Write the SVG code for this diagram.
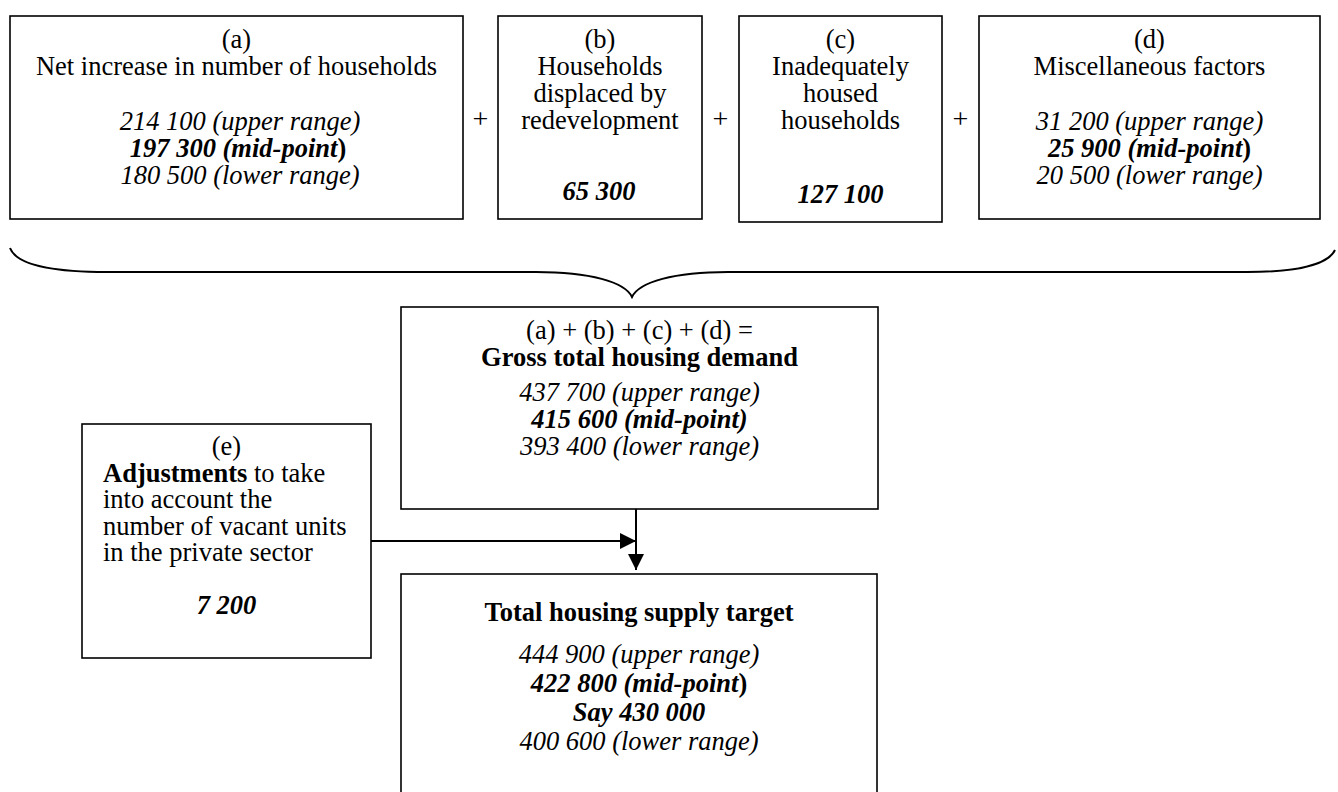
<svg xmlns="http://www.w3.org/2000/svg" width="1338" height="792" viewBox="0 0 1338 792">
<style>
text{font-family:"Liberation Serif","Times New Roman",serif;font-size:26.5px;fill:#000}
.c{text-anchor:middle}
.i{font-style:italic}
.b{font-weight:bold}
.bi{font-weight:bold;font-style:italic}
.plus{font-size:28px;text-anchor:middle}
.box{fill:#fff;stroke:#000;stroke-width:1.6}
.ln{fill:none;stroke:#000;stroke-width:2}
</style>
<defs>
<marker id="ah" viewBox="0 0 10 10" refX="10" refY="5" markerWidth="16" markerHeight="16" markerUnits="userSpaceOnUse" orient="auto">
<path d="M0,0 L10,5 L0,10 Z" fill="#000"/>
</marker>
</defs>

<g id="node-a">
<rect class="box" x="10" y="16" width="453" height="203"/>
<text class="c" x="236.5" y="48">(a)</text>
<text class="c" x="236.5" y="75">Net increase in number of households</text>
<text class="c i" x="240" y="130">214 100 (upper range)</text>
<text class="c" x="238" y="157"><tspan class="bi">197 300 (mid-point</tspan><tspan class="b">)</tspan></text>
<text class="c i" x="240" y="184">180 500 (lower range)</text>
</g>

<text class="plus" x="480.5" y="128">+</text>

<g id="node-b">
<rect class="box" x="498" y="16" width="204" height="203"/>
<text class="c" x="600" y="48">(b)</text>
<text class="c" x="600" y="75">Households</text>
<text class="c" x="600" y="102">displaced by</text>
<text class="c" x="600" y="129">redevelopment</text>
<text class="c bi" x="599" y="200">65 300</text>
</g>

<text class="plus" x="720.5" y="128">+</text>

<g id="node-c">
<rect class="box" x="739" y="16" width="203" height="206"/>
<text class="c" x="840.5" y="48">(c)</text>
<text class="c" x="840.5" y="75">Inadequately</text>
<text class="c" x="840.5" y="102">housed</text>
<text class="c" x="840.5" y="129">households</text>
<text class="c bi" x="840.5" y="203">127 100</text>
</g>

<text class="plus" x="960.5" y="128">+</text>

<g id="node-d">
<rect class="box" x="979" y="16" width="341" height="203"/>
<text class="c" x="1149.5" y="48">(d)</text>
<text class="c" x="1149.5" y="75">Miscellaneous factors</text>
<text class="c i" x="1149.5" y="130">31 200 (upper range)</text>
<text class="c" x="1149.5" y="157"><tspan class="bi">25 900 (mid-point</tspan><tspan class="b">)</tspan></text>
<text class="c i" x="1149.5" y="184">20 500 (lower range)</text>
</g>

<g id="brace">
<path class="ln" d="M10,248 C16,264 50,272 107,272 L536,272 C590,272 625,282 632,297 C639,282 674,272 728,272 L1247,272 C1295,272 1328,265 1335,250"/>
</g>

<g id="node-gross">
<rect class="box" x="401" y="307" width="477" height="202"/>
<text class="c" x="639.5" y="339">(a) + (b) + (c) + (d) =</text>
<text class="c b" x="639.5" y="366">Gross total housing demand</text>
<text class="c i" x="639.5" y="401">437 700 (upper range)</text>
<text class="c bi" x="639.5" y="428">415 600 (mid-point)</text>
<text class="c i" x="639.5" y="455">393 400 (lower range)</text>
</g>

<g id="node-e">
<rect class="box" x="82" y="424" width="289" height="234"/>
<text class="c" x="226.5" y="455">(e)</text>
<text x="103" y="482"><tspan class="b">Adjustments</tspan> to take</text>
<text x="103" y="508">into account the</text>
<text x="103" y="535">number of vacant units</text>
<text x="103" y="561">in the private sector</text>
<text class="c bi" x="226.5" y="614">7 200</text>
</g>

<g id="node-total">
<rect class="box" x="401" y="574" width="476" height="240"/>
<text class="c b" x="639" y="621">Total housing supply target</text>
<text class="c i" x="639" y="663">444 900 (upper range)</text>
<text class="c" x="639" y="692"><tspan class="bi">422 800 (mid-point</tspan><tspan class="b">)</tspan></text>
<text class="c bi" x="639" y="721">Say 430 000</text>
<text class="c i" x="639" y="750">400 600 (lower range)</text>
</g>

<g id="connectors">
<line class="ln" x1="636" y1="509" x2="636" y2="570" marker-end="url(#ah)"/>
<line class="ln" x1="371" y1="541" x2="636" y2="541" marker-end="url(#ah)"/>
</g>
</svg>
